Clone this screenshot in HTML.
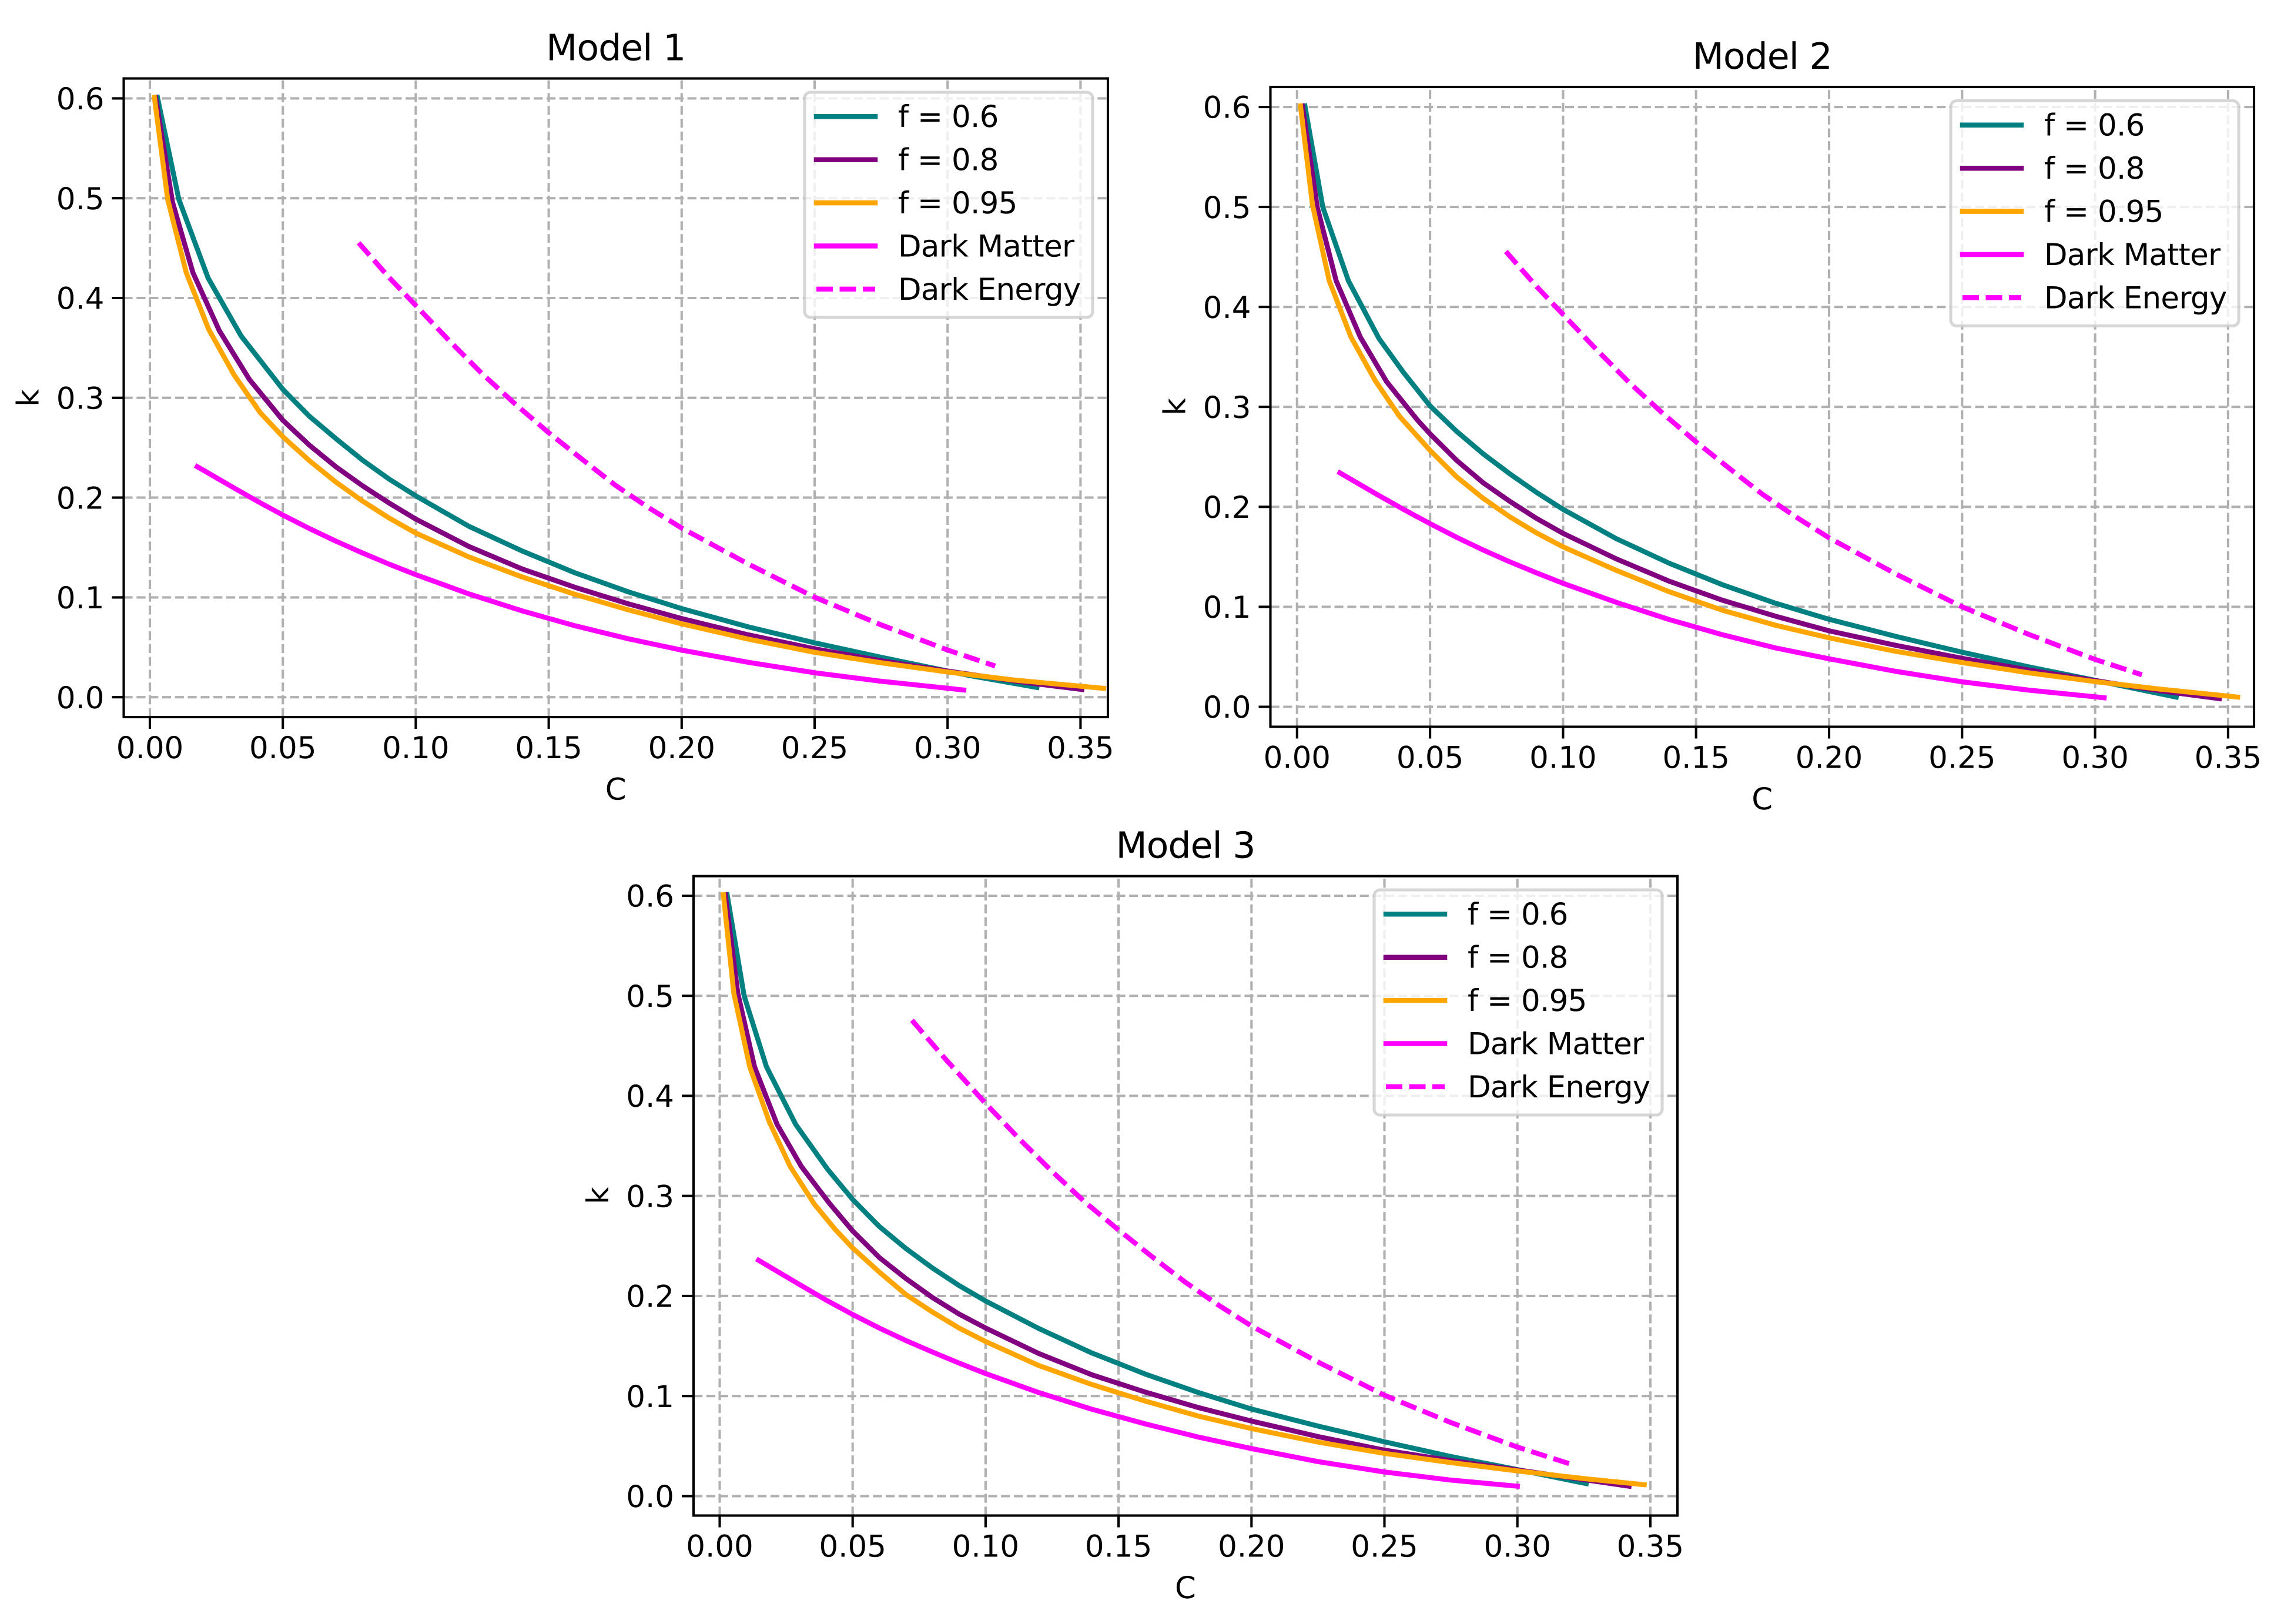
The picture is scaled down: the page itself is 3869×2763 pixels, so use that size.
<!DOCTYPE html>
<html lang="en">
<head>
<meta charset="utf-8">
<title>Model 1, 2, 3 curves of k against C</title>
<style>
html,body{margin:0;padding:0;background:#fff;}
svg{display:block;}
text{font-family:"DejaVu Sans","Liberation Sans",sans-serif;fill:#000;font-size:51.4px;text-rendering:geometricPrecision;}
.title{font-size:61.7px;text-anchor:middle;letter-spacing:-1px;}
.axl{text-anchor:middle;}
.lg text{letter-spacing:-.7px;}
.lf{fill:rgba(255,255,255,.8);stroke:rgba(204,204,204,.8);stroke-width:5.1;}
.spine{fill:none;stroke:#000;stroke-width:4.1;}
.sl{fill:none;stroke-width:8.5;stroke-linecap:square;}
.dl{fill:none;stroke-width:8.5;stroke-linecap:butt;stroke-dasharray:28 11.5;}
</style>
</head>
<body>
<svg id="figure" xmlns="http://www.w3.org/2000/svg" width="3869" height="2763" viewBox="0 0 3869 2763">
<rect x="0" y="0" width="3869" height="2763" fill="#fff"/>

<g id="panel1">
  <g id="plot1"></g>
  <rect class="spine" x="210.5" y="133.5" width="1674.5" height="1086.5"/>
  <text class="title" x="1047.7" y="102.5">Model 1</text>
  <text class="axl" x="1047.7" y="1360.5">C</text>
  <text class="axl" transform="translate(65.5 677) rotate(-90)">k</text>
  <g class="lg" transform="translate(1369 157)">
    <rect class="lf" x="0" y="0" width="490" height="383" rx="10" ry="10"/>
    <line class="sl" x1="20" x2="120" y1="41.3" y2="41.3" stroke="#008080"/>
    <text x="159" y="59">f = 0.6</text>
    <line class="sl" x1="20" x2="120" y1="114.7" y2="114.7" stroke="#800080"/>
    <text x="159" y="132.5">f = 0.8</text>
    <line class="sl" x1="20" x2="120" y1="188.1" y2="188.1" stroke="#ffa500"/>
    <text x="159" y="206">f = 0.95</text>
    <line class="sl" x1="20" x2="120" y1="261.5" y2="261.5" stroke="#ff00ff"/>
    <text x="159" y="279.5">Dark Matter</text>
    <line class="dl" x1="20" x2="120" y1="334.9" y2="334.9" stroke="#ff00ff"/>
    <text x="159" y="353">Dark Energy</text>
  </g>
</g>

<g id="panel2">
  <g id="plot2"></g>
  <rect class="spine" x="2161.5" y="148" width="1673.5" height="1088.5"/>
  <text class="title" x="2998.2" y="117">Model 2</text>
  <text class="axl" x="2998.2" y="1377">C</text>
  <text class="axl" transform="translate(2016.5 692) rotate(-90)">k</text>
  <g class="lg" transform="translate(3319 171.5)">
    <rect class="lf" x="0" y="0" width="490" height="383" rx="10" ry="10"/>
    <line class="sl" x1="20" x2="120" y1="41.3" y2="41.3" stroke="#008080"/>
    <text x="159" y="59">f = 0.6</text>
    <line class="sl" x1="20" x2="120" y1="114.7" y2="114.7" stroke="#800080"/>
    <text x="159" y="132.5">f = 0.8</text>
    <line class="sl" x1="20" x2="120" y1="188.1" y2="188.1" stroke="#ffa500"/>
    <text x="159" y="206">f = 0.95</text>
    <line class="sl" x1="20" x2="120" y1="261.5" y2="261.5" stroke="#ff00ff"/>
    <text x="159" y="279.5">Dark Matter</text>
    <line class="dl" x1="20" x2="120" y1="334.9" y2="334.9" stroke="#ff00ff"/>
    <text x="159" y="353">Dark Energy</text>
  </g>
</g>

<g id="panel3">
  <g id="plot3"></g>
  <rect class="spine" x="1180" y="1490.6" width="1674" height="1087.9"/>
  <text class="title" x="2017" y="1459.6">Model 3</text>
  <text class="axl" x="2017" y="2719">C</text>
  <text class="axl" transform="translate(1035 2034) rotate(-90)">k</text>
  <g class="lg" transform="translate(2338 1514)">
    <rect class="lf" x="0" y="0" width="490" height="383" rx="10" ry="10"/>
    <line class="sl" x1="20" x2="120" y1="41.3" y2="41.3" stroke="#008080"/>
    <text x="159" y="59">f = 0.6</text>
    <line class="sl" x1="20" x2="120" y1="114.7" y2="114.7" stroke="#800080"/>
    <text x="159" y="132.5">f = 0.8</text>
    <line class="sl" x1="20" x2="120" y1="188.1" y2="188.1" stroke="#ffa500"/>
    <text x="159" y="206">f = 0.95</text>
    <line class="sl" x1="20" x2="120" y1="261.5" y2="261.5" stroke="#ff00ff"/>
    <text x="159" y="279.5">Dark Matter</text>
    <line class="dl" x1="20" x2="120" y1="334.9" y2="334.9" stroke="#ff00ff"/>
    <text x="159" y="353">Dark Energy</text>
  </g>
</g>
</svg>

<script>
// Tick labels (shared by all three panels)
const xTickLabels = ['0.00','0.05','0.10','0.15','0.20','0.25','0.30','0.35'];
const yTickLabels = ['0.0','0.1','0.2','0.3','0.4','0.5','0.6'];

// Model 1 series
const m1F06C = [.00285,.0109,.0219,.0343,.05,.06,.07,.08,.09,.1,.12,.14,.16,.18,.2,.225,.25,.275,.3,.3087,.3336];
const m1F06K = [.601,.4988,.42,.362,.3085,.2815,.259,.2375,.2185,.2018,.1712,.1465,.1245,.1055,.0888,.0705,.0545,.04,.0262,.0215,.0098];
const m1F08C = [.00214,.0085,.0162,.0261,.0374,.05,.06,.07,.08,.09,.1,.12,.14,.16,.18,.2,.225,.25,.275,.3,.33,.3505];
const m1F08K = [.601,.4961,.4253,.3673,.3185,.2775,.2525,.2308,.2118,.1945,.1785,.151,.1285,.11,.0935,.0788,.0625,.0485,.0365,.0262,.0145,.0078];
const m1F095C = [.0017,.0067,.0137,.0221,.0317,.0415,.05,.06,.07,.08,.09,.1,.12,.14,.16,.18,.2,.225,.25,.275,.3,.325,.3587];
const m1F095K = [.601,.4988,.4253,.3687,.3228,.2851,.261,.237,.2155,.1965,.1795,.1645,.1405,.1205,.103,.0875,.0735,.0582,.045,.0345,.0253,.0172,.0089];
const m1DarkMatterC = [.0178,.03,.04,.05,.06,.07,.08,.09,.1,.12,.14,.16,.18,.2,.225,.25,.275,.3,.3061];
const m1DarkMatterK = [.231,.2122,.197,.1825,.169,.1563,.1445,.1333,.1228,.1035,.0865,.0715,.0585,.0472,.035,.0245,.016,.009,.0072];
const m1DarkEnergyC = [.0785,.09,.1,.1125,.125,.1375,.15,.1625,.175,.1875,.2,.225,.25,.275,.3,.3179];
const m1DarkEnergyK = [.4553,.4205,.3925,.3575,.324,.2935,.265,.2385,.2125,.19,.1695,.1335,.1002,.0725,.0473,.0313];

// Model 2 series
const m2F06C = [.00296,.0097,.0193,.0308,.04,.05,.06,.07,.08,.09,.1,.12,.14,.16,.18,.2,.225,.25,.275,.3,.3305];
const m2F06K = [.601,.4996,.4262,.3684,.3345,.301,.2755,.253,.233,.2145,.1975,.1682,.1435,.122,.1035,.0875,.0705,.0546,.04,.0265,.0097];
const m2F08C = [.002,.0076,.0147,.0238,.0337,.0453,.05,.06,.07,.08,.09,.1,.12,.14,.16,.18,.2,.225,.25,.275,.3,.325,.3467];
const m2F08K = [.601,.4996,.4262,.3697,.3251,.2867,.273,.2465,.224,.2055,.1885,.1735,.148,.1255,.1065,.0905,.076,.0615,.0485,.0368,.0262,.0158,.0082];
const m2F095C = [.0013,.0058,.0121,.0203,.0294,.0385,.05,.06,.07,.08,.09,.1,.12,.14,.16,.18,.2,.225,.25,.275,.3,.325,.3536];
const m2F095K = [.601,.5022,.4262,.3697,.3262,.2906,.2565,.23,.2085,.19,.174,.16,.1365,.115,.0965,.0815,.069,.0555,.0443,.034,.0252,.0175,.0097];
const m2DarkMatterC = [.0161,.03,.04,.05,.06,.07,.08,.09,.1,.12,.14,.16,.18,.2,.225,.25,.275,.3,.3034];
const m2DarkMatterK = [.234,.2125,.1975,.1832,.1695,.1568,.145,.134,.1235,.1045,.0872,.072,.0588,.048,.0355,.025,.0167,.01,.009];
const m2DarkEnergyC = [.0785,.09,.1,.1125,.125,.1375,.15,.1625,.175,.1875,.2,.225,.25,.275,.3,.3176];
const m2DarkEnergyK = [.4555,.4205,.3925,.3575,.324,.2935,.265,.2385,.2125,.19,.169,.133,.1,.0725,.0474,.032];

// Model 3 series
const m3F06C = [.0028,.0092,.0176,.0286,.0406,.05,.06,.07,.08,.09,.1,.12,.14,.16,.18,.2,.225,.25,.275,.3,.3259];
const m3F06K = [.601,.4998,.429,.3714,.3266,.2965,.2695,.2475,.228,.2105,.195,.1675,.143,.122,.1035,.087,.07,.0543,.0395,.0265,.0125];
const m3F08C = [.0021,.0068,.0131,.0216,.0307,.0413,.05,.06,.07,.08,.09,.1,.12,.14,.16,.18,.2,.225,.25,.275,.3,.325,.342];
const m3F08K = [.601,.5027,.429,.3714,.3295,.2925,.265,.2385,.2175,.1985,.182,.168,.1425,.1212,.104,.0885,.075,.0595,.0459,.0355,.0262,.0165,.0099];
const m3F095C = [.0014,.0053,.0113,.0187,.0265,.0356,.0435,.05,.06,.07,.08,.09,.1,.12,.14,.16,.18,.2,.225,.25,.275,.3,.325,.3477];
const m3F095K = [.601,.5027,.429,.3738,.3295,.2918,.2664,.248,.224,.2015,.184,.168,.1545,.1305,.1115,.095,.08,.0675,.054,.0427,.0335,.0252,.0175,.0114];
const m3DarkMatterC = [.0146,.03,.04,.05,.06,.07,.08,.09,.1,.12,.14,.16,.18,.2,.225,.25,.275,.3];
const m3DarkMatterK = [.2357,.2115,.196,.1815,.168,.1555,.144,.133,.1225,.1035,.0868,.0722,.059,.0475,.0345,.0241,.016,.0099];
const m3DarkEnergyC = [.0723,.085,.1,.1125,.125,.1375,.15,.1625,.175,.1875,.2,.225,.25,.275,.3,.3211];
const m3DarkEnergyK = [.4756,.4365,.3925,.3575,.3245,.2935,.266,.2395,.214,.191,.17,.134,.1008,.0735,.049,.0311];

const NS = 'http://www.w3.org/2000/svg';

function makeAxes(left, right, top, bottom, xOrigin, xPerUnit, yOrigin, yPerUnit) {
  return {
    left: left, right: right, top: top, bottom: bottom,
    x: function (v) { return xOrigin + v * xPerUnit; },
    y: function (v) { return yOrigin - v * yPerUnit; }
  };
}

function drawLine(parent, x1, y1, x2, y2, stroke, dash, name) {
  const el = document.createElementNS(NS, 'line');
  el.setAttribute('x1', x1);
  el.setAttribute('y1', y1);
  el.setAttribute('x2', x2);
  el.setAttribute('y2', y2);
  el.setAttribute('stroke', stroke);
  el.setAttribute('stroke-width', '4.1');
  if (dash) el.setAttribute('stroke-dasharray', dash);
  
  
  parent.appendChild(el);
}

function drawLabel(parent, x, y, anchor, content, name) {
  const el = document.createElementNS(NS, 'text');
  el.setAttribute('x', x);
  el.setAttribute('y', y);
  el.setAttribute('text-anchor', anchor);
  el.textContent = content;
  
  
  parent.appendChild(el);
}

function drawGridAndTicks(parent, axes) {
  xTickLabels.forEach(function (label) {
    const px = axes.x(parseFloat(label));
    drawLine(parent, px, axes.bottom, px, axes.top, '#b0b0b0', '15.2 6.6', 'x-gridline-' + label);
    drawLine(parent, px, axes.bottom, px, axes.bottom + 20, '#000', null, 'x-tick-' + label);
    drawLabel(parent, px, axes.bottom + 70, 'middle', label, 'x-tick-label-' + label);
  });
  yTickLabels.forEach(function (label) {
    const py = axes.y(parseFloat(label));
    drawLine(parent, axes.left, py, axes.right, py, '#b0b0b0', '15.2 6.6', 'y-gridline-' + label);
    drawLine(parent, axes.left, py, axes.left - 20, py, '#000', null, 'y-tick-' + label);
    drawLabel(parent, axes.left - 33, py + 18.7, 'end', label, 'y-tick-label-' + label);
  });
}

function drawSeries(parent, axes, cValues, kValues, stroke, dashed, name) {
  const el = document.createElementNS(NS, 'polyline');
  const pts = cValues.map(function (c, i) {
    return axes.x(c).toFixed(2) + ',' + axes.y(kValues[i]).toFixed(2);
  });
  el.setAttribute('points', pts.join(' '));
  el.setAttribute('class', dashed ? 'dl' : 'sl');
  el.setAttribute('stroke', stroke);
  el.setAttribute('stroke-linejoin', 'round');
  
  
  parent.appendChild(el);
}

const axes1 = makeAxes(210.5, 1885, 133.5, 1220, 255, 4524, 1186.2, 1698);
const axes2 = makeAxes(2161.5, 3835, 148, 1236.5, 2206.8, 4526, 1202.5, 1700.8);
const axes3 = makeAxes(1180, 2854, 1490.6, 2578.5, 1224.5, 4524, 2545.4, 1702.3);

const plot1 = document.getElementById('plot1');
const plot2 = document.getElementById('plot2');
const plot3 = document.getElementById('plot3');

drawGridAndTicks(plot1, axes1);
drawSeries(plot1, axes1, m1F06C, m1F06K, '#008080', false, 'series-f-0-6');
drawSeries(plot1, axes1, m1F08C, m1F08K, '#800080', false, 'series-f-0-8');
drawSeries(plot1, axes1, m1F095C, m1F095K, '#ffa500', false, 'series-f-0-95');
drawSeries(plot1, axes1, m1DarkMatterC, m1DarkMatterK, '#ff00ff', false, 'series-dark-matter');
drawSeries(plot1, axes1, m1DarkEnergyC, m1DarkEnergyK, '#ff00ff', true, 'series-dark-energy');

drawGridAndTicks(plot2, axes2);
drawSeries(plot2, axes2, m2F06C, m2F06K, '#008080', false, 'series-f-0-6');
drawSeries(plot2, axes2, m2F08C, m2F08K, '#800080', false, 'series-f-0-8');
drawSeries(plot2, axes2, m2F095C, m2F095K, '#ffa500', false, 'series-f-0-95');
drawSeries(plot2, axes2, m2DarkMatterC, m2DarkMatterK, '#ff00ff', false, 'series-dark-matter');
drawSeries(plot2, axes2, m2DarkEnergyC, m2DarkEnergyK, '#ff00ff', true, 'series-dark-energy');

drawGridAndTicks(plot3, axes3);
drawSeries(plot3, axes3, m3F06C, m3F06K, '#008080', false, 'series-f-0-6');
drawSeries(plot3, axes3, m3F08C, m3F08K, '#800080', false, 'series-f-0-8');
drawSeries(plot3, axes3, m3F095C, m3F095K, '#ffa500', false, 'series-f-0-95');
drawSeries(plot3, axes3, m3DarkMatterC, m3DarkMatterK, '#ff00ff', false, 'series-dark-matter');
drawSeries(plot3, axes3, m3DarkEnergyC, m3DarkEnergyK, '#ff00ff', true, 'series-dark-energy');
</script>
</body>
</html>
